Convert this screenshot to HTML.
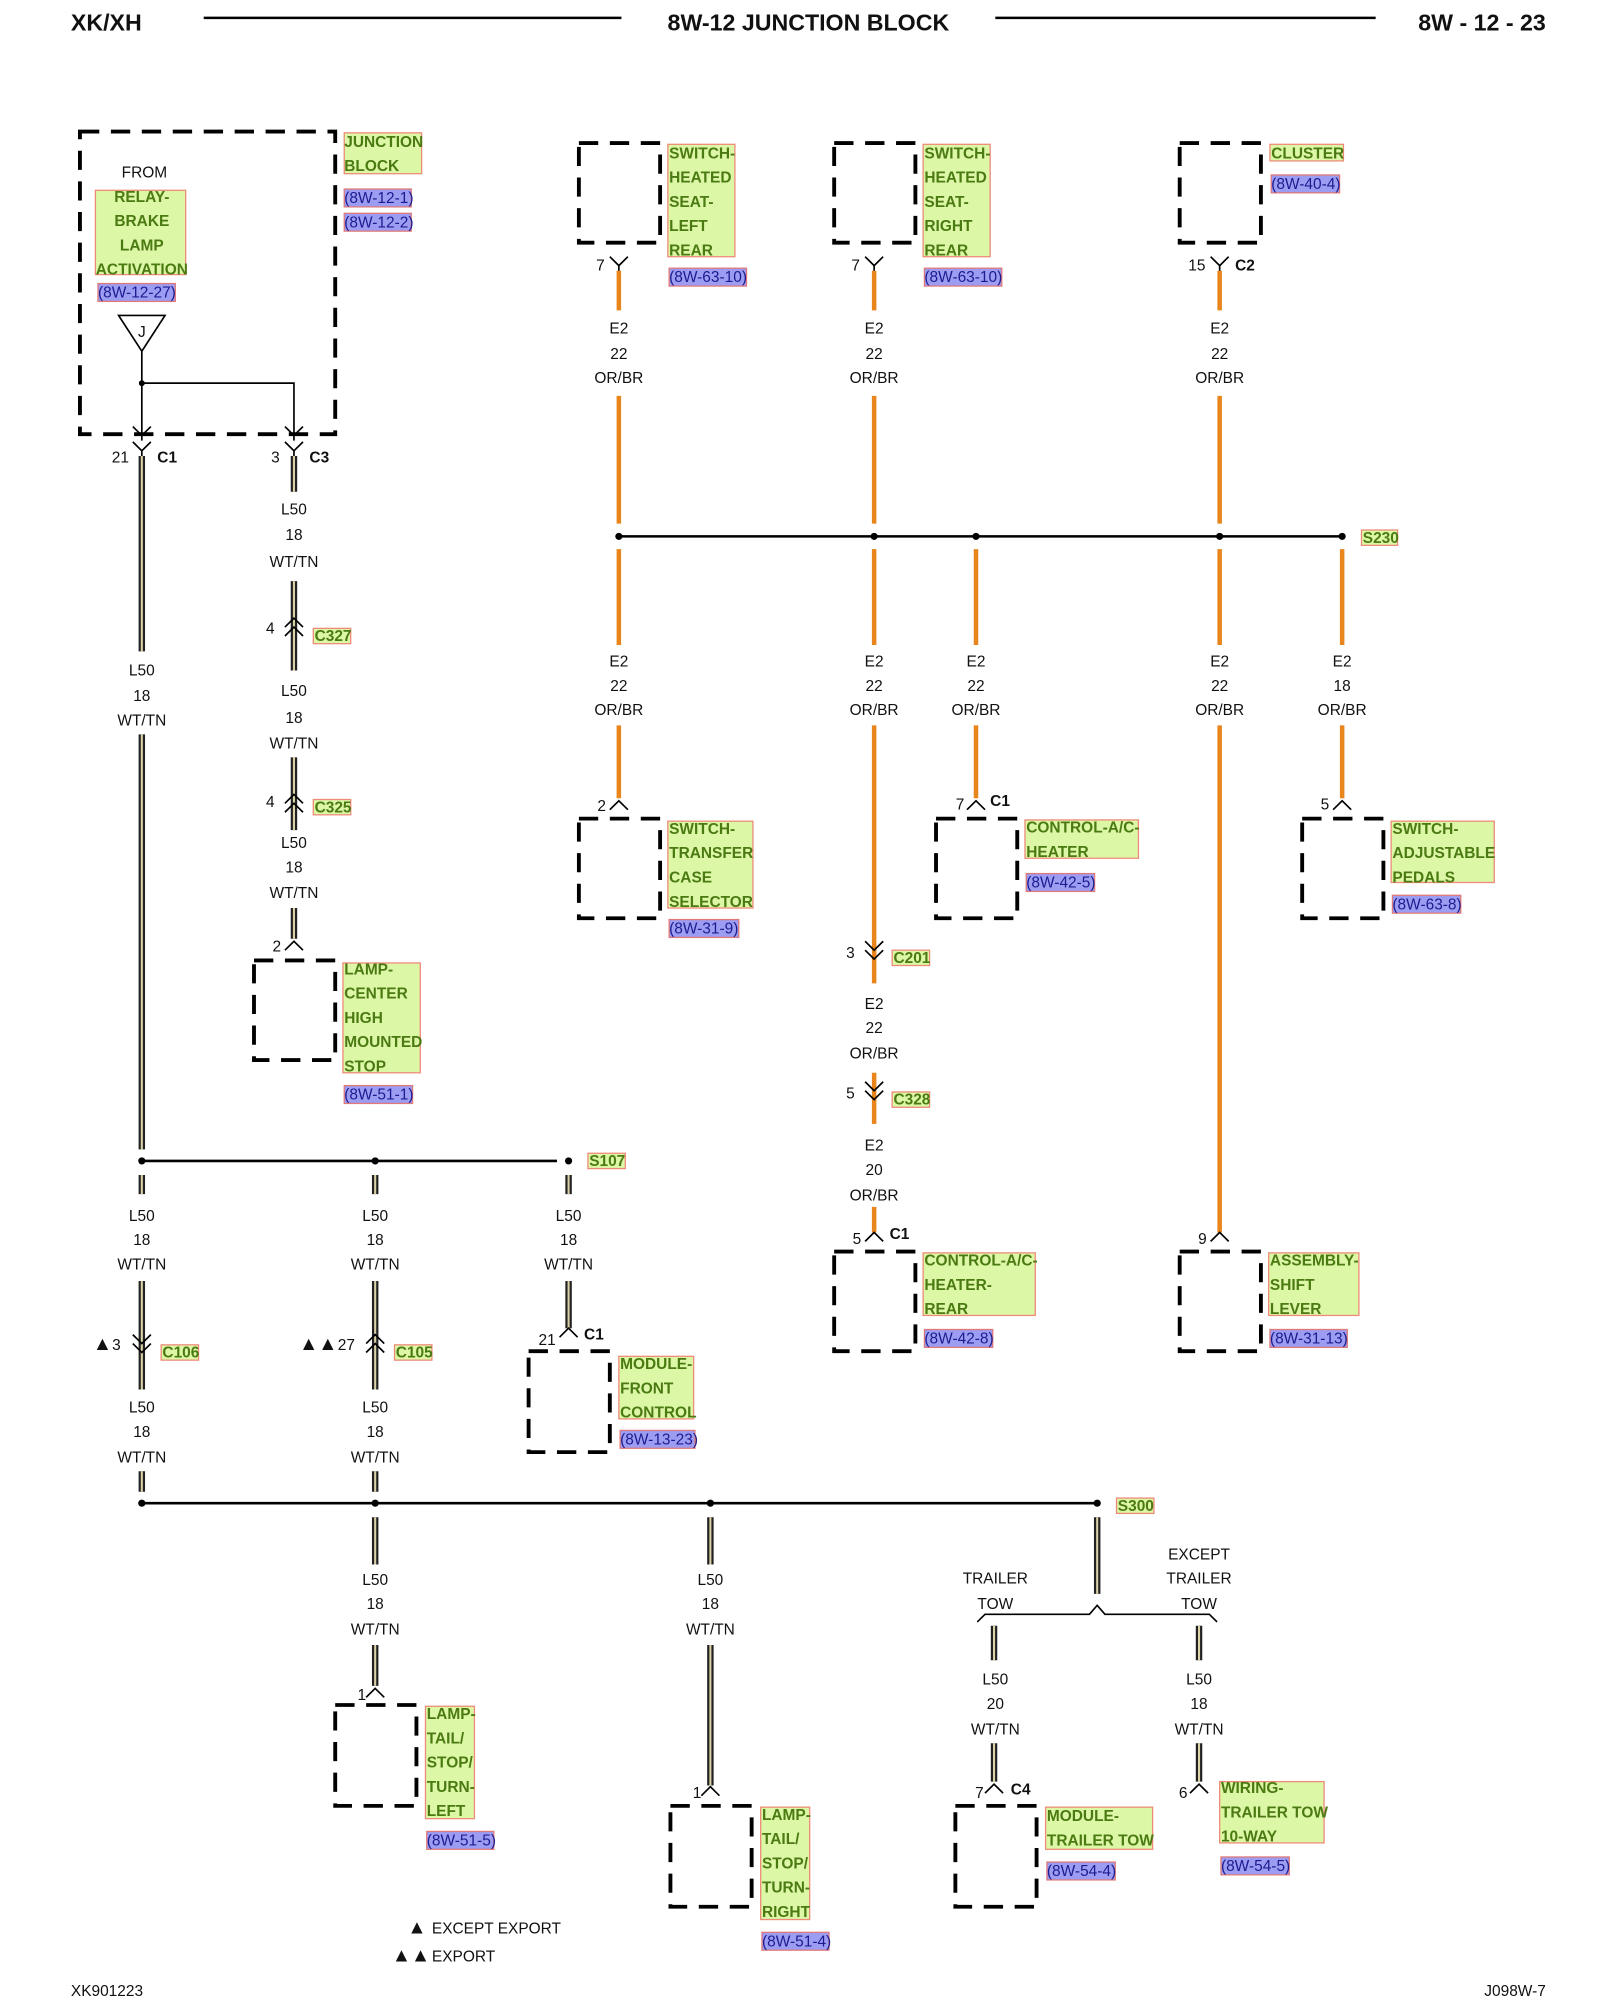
<!DOCTYPE html>
<html><head><meta charset="utf-8"><style>
html,body{margin:0;padding:0;background:#fff}
svg{display:block}
text{font-family:"Liberation Sans",sans-serif}
.d{fill:none;stroke:#000;stroke-width:3;stroke-dasharray:15 9}
.wa{fill:none;stroke:#222;stroke-width:5}
.wb{fill:none;stroke:#dcd2a8;stroke-width:1.6}
.o{fill:none;stroke:#e8851c;stroke-width:3.5}
.g{fill:#dcf7a6;stroke:#ef8a78;stroke-width:1}
.gt{font-size:12px;font-weight:bold;fill:#4b7a12}
.b{fill:#9c9cf2;stroke:#e07a7a;stroke-width:1}
.bt{font-size:12px;fill:#1c1c90}
.t{font-size:12px;text-anchor:middle;fill:#111}
.n{font-size:12px;fill:#111}
.tri{font-size:15px;fill:#111}
.nb{font-size:12px;font-weight:bold;fill:#111}
.s{fill:none;stroke:#000;stroke-width:1.3}
.h{font-size:18px;font-weight:bold;fill:#111}
</style></head><body>
<svg width="1600" height="2000" viewBox="0 0 1241 1566" preserveAspectRatio="none" xmlns="http://www.w3.org/2000/svg">
<defs>
<path id="dw" d="M110 357V510 M110 575V900 M228 357V385 M228 455V525 M228 593V650 M228 711V735 M110 920V935 M110 1003V1088 M110 1152V1168 M291 920V935 M291 1003V1088 M291 1152V1168 M441 920V935 M441 1003V1040 M291 1188V1225 M291 1288V1320 M551 1188V1225 M551 1288V1398 M851 1188V1248 M771 1273V1300 M771 1365V1395 M930 1273V1300 M930 1365V1395"/>
<path id="fk" class="s" d="M-7,-6 L0,1 L7,-6 M0,1V5"/>
<path id="cr" class="s" d="M-7,4 L0,-3 L7,4"/>
<path id="vv" class="s" d="M-7,-8 L0,-1 L7,-8 M-7,-1 L0,6 L7,-1"/>
<path id="cc" class="s" d="M-7,-1 L0,-8 L7,-1 M-7,6 L0,-1 L7,6"/>
</defs>
<text x="55" y="24" class="h">XK/XH</text>
<line x1="158" y1="14" x2="482" y2="14" stroke="#000" stroke-width="2"/>
<text x="627" y="24" class="h" text-anchor="middle">8W-12 JUNCTION BLOCK</text>
<line x1="772" y1="14" x2="1067" y2="14" stroke="#000" stroke-width="2"/>
<text x="1199" y="24" class="h" text-anchor="end">8W - 12 - 23</text>

<use href="#dw" class="wa"/><use href="#dw" class="wb"/>
<path class="o" d="M480 212V243 M480 310V410 M678 212V243 M678 310V410 M946 212V243 M946 310V410 M480 430V505 M480 568V625 M678 430V505 M678 568V770 M678 840V880 M678 945V965 M757 430V505 M757 568V625 M946 430V505 M946 568V965 M1041 430V505 M1041 568V625"/>

<g stroke="#000" stroke-width="2">
<line x1="480" y1="420" x2="1041" y2="420"/>
<line x1="110" y1="909" x2="432" y2="909"/>
<line x1="110" y1="1177" x2="851" y2="1177"/>
</g>
<g fill="#000">
<circle cx="480" cy="420" r="2.8"/><circle cx="678" cy="420" r="2.8"/><circle cx="757" cy="420" r="2.8"/><circle cx="946" cy="420" r="2.8"/><circle cx="1041" cy="420" r="2.8"/>
<circle cx="110" cy="909" r="2.8"/><circle cx="291" cy="909" r="2.8"/><circle cx="441" cy="909" r="2.8"/>
<circle cx="110" cy="1177" r="2.8"/><circle cx="291" cy="1177" r="2.8"/><circle cx="551" cy="1177" r="2.8"/><circle cx="851" cy="1177" r="2.8"/>
<circle cx="110" cy="300" r="2.3"/>
</g>

<rect x="62" y="103" width="198" height="237" class="d"/>
<text x="112" y="139" class="t">FROM</text>
<rect x="74" y="149" width="70" height="66" class="g"/>
<text x="110" y="158" class="gt" text-anchor="middle">RELAY-</text>
<text x="110" y="177" class="gt" text-anchor="middle">BRAKE</text>
<text x="110" y="196" class="gt" text-anchor="middle">LAMP</text>
<text x="110" y="215" class="gt" text-anchor="middle">ACTIVATION</text>
<rect x="76" y="222" width="60" height="14" class="b"/><text x="76" y="233" class="bt">(8W-12-27)</text>
<path d="M92 247 L128 247 L110 275 Z" fill="#fff" stroke="#000" stroke-width="1.3"/>
<text x="110" y="264" class="t" font-size="11">J</text>
<path class="s" d="M110 275V340 M110 300H228V340"/>
<use href="#fk" x="110" y="340"/><use href="#fk" x="228" y="340"/>
<rect x="267" y="104" width="60" height="32" class="g"/>
<text x="267" y="115" class="gt">JUNCTION</text><text x="267" y="134" class="gt">BLOCK</text>
<rect x="267" y="148" width="52" height="14" class="b"/><text x="267" y="159" class="bt">(8W-12-1)</text>
<rect x="267" y="167" width="52" height="14" class="b"/><text x="267" y="178" class="bt">(8W-12-2)</text>

<use href="#fk" x="110" y="352"/><text x="100" y="362" class="n" text-anchor="end">21</text><text x="122" y="362" class="nb">C1</text>
<use href="#fk" x="228" y="352"/><text x="217" y="362" class="n" text-anchor="end">3</text><text x="240" y="362" class="nb">C3</text>

<text x="110" y="529" class="t">L50</text><text x="110" y="549" class="t">18</text><text x="110" y="568" class="t">WT/TN</text>
<text x="228" y="403" class="t">L50</text><text x="228" y="423" class="t">18</text><text x="228" y="444" class="t">WT/TN</text>
<use href="#cc" x="228" y="492"/><text x="213" y="496" class="n" text-anchor="end">4</text>
<rect x="243" y="492" width="29" height="12" class="g"/><text x="244" y="502" class="gt">C327</text>
<text x="228" y="545" class="t">L50</text><text x="228" y="566" class="t">18</text><text x="228" y="586" class="t">WT/TN</text>
<use href="#cc" x="228" y="630"/><text x="213" y="632" class="n" text-anchor="end">4</text>
<rect x="243" y="626" width="29" height="12" class="g"/><text x="244" y="636" class="gt">C325</text>
<text x="228" y="664" class="t">L50</text><text x="228" y="683" class="t">18</text><text x="228" y="703" class="t">WT/TN</text>
<use href="#cr" x="228" y="740"/><text x="218" y="745" class="n" text-anchor="end">2</text>
<rect x="197" y="752" width="63" height="78" class="d"/>
<rect x="266" y="754" width="60" height="86" class="g"/>
<text x="267" y="763" class="gt">LAMP-</text><text x="267" y="782" class="gt">CENTER</text><text x="267" y="801" class="gt">HIGH</text><text x="267" y="820" class="gt">MOUNTED</text><text x="267" y="839" class="gt">STOP</text>
<rect x="267" y="850" width="53" height="14" class="b"/><text x="267" y="861" class="bt">(8W-51-1)</text>

<rect x="449" y="112" width="63" height="78" class="d"/>
<rect x="518" y="113" width="52" height="88" class="g"/>
<text x="519" y="124" class="gt">SWITCH-</text><text x="519" y="143" class="gt">HEATED</text><text x="519" y="162" class="gt">SEAT-</text><text x="519" y="181" class="gt">LEFT</text><text x="519" y="200" class="gt">REAR</text>
<rect x="519" y="210" width="60" height="14" class="b"/><text x="519" y="221" class="bt">(8W-63-10)</text>
<use href="#fk" x="480" y="207"/><text x="469" y="212" class="n" text-anchor="end">7</text>

<rect x="647" y="112" width="63" height="78" class="d"/>
<rect x="716" y="113" width="52" height="88" class="g"/>
<text x="717" y="124" class="gt">SWITCH-</text><text x="717" y="143" class="gt">HEATED</text><text x="717" y="162" class="gt">SEAT-</text><text x="717" y="181" class="gt">RIGHT</text><text x="717" y="200" class="gt">REAR</text>
<rect x="717" y="210" width="60" height="14" class="b"/><text x="717" y="221" class="bt">(8W-63-10)</text>
<use href="#fk" x="678" y="207"/><text x="667" y="212" class="n" text-anchor="end">7</text>

<rect x="915" y="112" width="63" height="78" class="d"/>
<rect x="985" y="113" width="57" height="13" class="g"/><text x="986" y="124" class="gt">CLUSTER</text>
<rect x="986" y="137" width="53" height="14" class="b"/><text x="986" y="148" class="bt">(8W-40-4)</text>
<use href="#fk" x="946" y="207"/><text x="935" y="212" class="n" text-anchor="end">15</text><text x="958" y="212" class="nb">C2</text>

<text x="480" y="261" class="t">E2</text><text x="480" y="281" class="t">22</text><text x="480" y="300" class="t">OR/BR</text>
<text x="678" y="261" class="t">E2</text><text x="678" y="281" class="t">22</text><text x="678" y="300" class="t">OR/BR</text>
<text x="946" y="261" class="t">E2</text><text x="946" y="281" class="t">22</text><text x="946" y="300" class="t">OR/BR</text>
<rect x="1056" y="415" width="28" height="12" class="g"/><text x="1057" y="425" class="gt">S230</text>

<text x="480" y="522" class="t">E2</text><text x="480" y="541" class="t">22</text><text x="480" y="560" class="t">OR/BR</text>
<text x="678" y="522" class="t">E2</text><text x="678" y="541" class="t">22</text><text x="678" y="560" class="t">OR/BR</text>
<text x="757" y="522" class="t">E2</text><text x="757" y="541" class="t">22</text><text x="757" y="560" class="t">OR/BR</text>
<text x="946" y="522" class="t">E2</text><text x="946" y="541" class="t">22</text><text x="946" y="560" class="t">OR/BR</text>
<text x="1041" y="522" class="t">E2</text><text x="1041" y="541" class="t">18</text><text x="1041" y="560" class="t">OR/BR</text>

<use href="#cr" x="480" y="630"/><text x="470" y="635" class="n" text-anchor="end">2</text>
<rect x="449" y="641" width="63" height="78" class="d"/>
<rect x="518" y="643" width="66" height="68" class="g"/>
<text x="519" y="653" class="gt">SWITCH-</text><text x="519" y="672" class="gt">TRANSFER</text><text x="519" y="691" class="gt">CASE</text><text x="519" y="710" class="gt">SELECTOR</text>
<rect x="519" y="720" width="54" height="14" class="b"/><text x="519" y="731" class="bt">(8W-31-9)</text>

<use href="#cr" x="757" y="630"/><text x="748" y="634" class="n" text-anchor="end">7</text><text x="768" y="631" class="nb">C1</text>
<rect x="726" y="641" width="63" height="78" class="d"/>
<rect x="795" y="642" width="88" height="30" class="g"/>
<text x="796" y="652" class="gt">CONTROL-A/C-</text><text x="796" y="671" class="gt">HEATER</text>
<rect x="796" y="684" width="53" height="14" class="b"/><text x="796" y="695" class="bt">(8W-42-5)</text>

<use href="#cr" x="1041" y="630"/><text x="1031" y="634" class="n" text-anchor="end">5</text>
<rect x="1010" y="641" width="63" height="78" class="d"/>
<rect x="1079" y="643" width="80" height="48" class="g"/>
<text x="1080" y="653" class="gt">SWITCH-</text><text x="1080" y="672" class="gt">ADJUSTABLE</text><text x="1080" y="691" class="gt">PEDALS</text>
<rect x="1080" y="701" width="53" height="14" class="b"/><text x="1080" y="712" class="bt">(8W-63-8)</text>

<use href="#vv" x="678" y="745"/><text x="663" y="750" class="n" text-anchor="end">3</text>
<rect x="692" y="744" width="29" height="12" class="g"/><text x="693" y="754" class="gt">C201</text>
<text x="678" y="790" class="t">E2</text><text x="678" y="809" class="t">22</text><text x="678" y="829" class="t">OR/BR</text>
<use href="#vv" x="678" y="855"/><text x="663" y="860" class="n" text-anchor="end">5</text>
<rect x="692" y="855" width="29" height="12" class="g"/><text x="693" y="865" class="gt">C328</text>
<text x="678" y="901" class="t">E2</text><text x="678" y="920" class="t">20</text><text x="678" y="940" class="t">OR/BR</text>
<use href="#cr" x="678" y="968"/><text x="668" y="974" class="n" text-anchor="end">5</text><text x="690" y="970" class="nb">C1</text>
<rect x="647" y="980" width="63" height="78" class="d"/>
<rect x="716" y="981" width="87" height="49" class="g"/>
<text x="717" y="991" class="gt">CONTROL-A/C-</text><text x="717" y="1010" class="gt">HEATER-</text><text x="717" y="1029" class="gt">REAR</text>
<rect x="717" y="1041" width="53" height="14" class="b"/><text x="717" y="1052" class="bt">(8W-42-8)</text>

<use href="#cr" x="946" y="968"/><text x="936" y="974" class="n" text-anchor="end">9</text>
<rect x="915" y="980" width="63" height="78" class="d"/>
<rect x="984" y="981" width="70" height="49" class="g"/>
<text x="985" y="991" class="gt">ASSEMBLY-</text><text x="985" y="1010" class="gt">SHIFT</text><text x="985" y="1029" class="gt">LEVER</text>
<rect x="985" y="1041" width="60" height="14" class="b"/><text x="985" y="1052" class="bt">(8W-31-13)</text>

<rect x="456" y="903" width="29" height="12" class="g"/><text x="457" y="913" class="gt">S107</text>
<text x="110" y="956" class="t">L50</text><text x="110" y="975" class="t">18</text><text x="110" y="994" class="t">WT/TN</text>
<text x="291" y="956" class="t">L50</text><text x="291" y="975" class="t">18</text><text x="291" y="994" class="t">WT/TN</text>
<text x="441" y="956" class="t">L50</text><text x="441" y="975" class="t">18</text><text x="441" y="994" class="t">WT/TN</text>
<use href="#vv" x="110" y="1053"/><text x="72" y="1057" class="tri">▲</text><text x="87" y="1057" class="n">3</text>
<rect x="125" y="1053" width="29" height="12" class="g"/><text x="126" y="1063" class="gt">C106</text>
<use href="#cc" x="291" y="1053"/><text x="232" y="1057" class="tri">▲▲</text><text x="262" y="1057" class="n">27</text>
<rect x="306" y="1053" width="29" height="12" class="g"/><text x="307" y="1063" class="gt">C105</text>
<text x="110" y="1106" class="t">L50</text><text x="110" y="1125" class="t">18</text><text x="110" y="1145" class="t">WT/TN</text>
<text x="291" y="1106" class="t">L50</text><text x="291" y="1125" class="t">18</text><text x="291" y="1145" class="t">WT/TN</text>
<use href="#cr" x="441" y="1043"/><text x="431" y="1053" class="n" text-anchor="end">21</text><text x="453" y="1049" class="nb">C1</text>
<rect x="410" y="1058" width="63" height="79" class="d"/>
<rect x="480" y="1062" width="58" height="49" class="g"/>
<text x="481" y="1072" class="gt">MODULE-</text><text x="481" y="1091" class="gt">FRONT</text><text x="481" y="1110" class="gt">CONTROL</text>
<rect x="481" y="1120" width="58" height="14" class="b"/><text x="481" y="1131" class="bt">(8W-13-23)</text>

<rect x="866" y="1173" width="29" height="12" class="g"/><text x="867" y="1183" class="gt">S300</text>
<text x="291" y="1241" class="t">L50</text><text x="291" y="1260" class="t">18</text><text x="291" y="1280" class="t">WT/TN</text>
<text x="551" y="1241" class="t">L50</text><text x="551" y="1260" class="t">18</text><text x="551" y="1280" class="t">WT/TN</text>
<use href="#cr" x="291" y="1325"/><text x="284" y="1331" class="n" text-anchor="end">1</text>
<rect x="260" y="1335" width="63" height="79" class="d"/>
<rect x="330" y="1336" width="38" height="88" class="g"/>
<text x="331" y="1346" class="gt">LAMP-</text><text x="331" y="1365" class="gt">TAIL/</text><text x="331" y="1384" class="gt">STOP/</text><text x="331" y="1403" class="gt">TURN-</text><text x="331" y="1422" class="gt">LEFT</text>
<rect x="331" y="1434" width="52" height="14" class="b"/><text x="331" y="1445" class="bt">(8W-51-5)</text>

<use href="#cr" x="551" y="1402"/><text x="544" y="1408" class="n" text-anchor="end">1</text>
<rect x="520" y="1414" width="63" height="79" class="d"/>
<rect x="590" y="1415" width="38" height="88" class="g"/>
<text x="591" y="1425" class="gt">LAMP-</text><text x="591" y="1444" class="gt">TAIL/</text><text x="591" y="1463" class="gt">STOP/</text><text x="591" y="1482" class="gt">TURN-</text><text x="591" y="1501" class="gt">RIGHT</text>
<rect x="591" y="1513" width="52" height="14" class="b"/><text x="591" y="1524" class="bt">(8W-51-4)</text>

<path class="s" d="M758 1270 L764 1264 H845 L851 1257 L857 1264 H938 L944 1270"/>
<text x="772" y="1240" class="t">TRAILER</text><text x="772" y="1260" class="t">TOW</text>
<text x="930" y="1221" class="t">EXCEPT</text><text x="930" y="1240" class="t">TRAILER</text><text x="930" y="1260" class="t">TOW</text>
<text x="772" y="1319" class="t">L50</text><text x="772" y="1338" class="t">20</text><text x="772" y="1358" class="t">WT/TN</text>
<text x="930" y="1319" class="t">L50</text><text x="930" y="1338" class="t">18</text><text x="930" y="1358" class="t">WT/TN</text>
<use href="#cr" x="771" y="1400"/><text x="763" y="1408" class="n" text-anchor="end">7</text><text x="784" y="1405" class="nb">C4</text>
<rect x="741" y="1414" width="63" height="79" class="d"/>
<rect x="811" y="1415" width="83" height="33" class="g"/>
<text x="812" y="1426" class="gt">MODULE-</text><text x="812" y="1445" class="gt">TRAILER TOW</text>
<rect x="812" y="1458" width="53" height="14" class="b"/><text x="812" y="1469" class="bt">(8W-54-4)</text>
<use href="#cr" x="930" y="1400"/><text x="921" y="1408" class="n" text-anchor="end">6</text>
<rect x="946" y="1395" width="81" height="48" class="g"/>
<text x="947" y="1404" class="gt">WIRING-</text><text x="947" y="1423" class="gt">TRAILER TOW</text><text x="947" y="1442" class="gt">10-WAY</text>
<rect x="947" y="1454" width="53" height="14" class="b"/><text x="947" y="1465" class="bt">(8W-54-5)</text>

<text x="316" y="1514" class="tri">▲</text><text x="335" y="1514" class="n">EXCEPT EXPORT</text>
<text x="304" y="1536" class="tri">▲▲</text><text x="335" y="1536" class="n">EXPORT</text>
<text x="55" y="1563" class="n" font-size="11">XK901223</text>
<text x="1199" y="1563" class="n" font-size="11" text-anchor="end">J098W-7</text>
</svg>
</body></html>
